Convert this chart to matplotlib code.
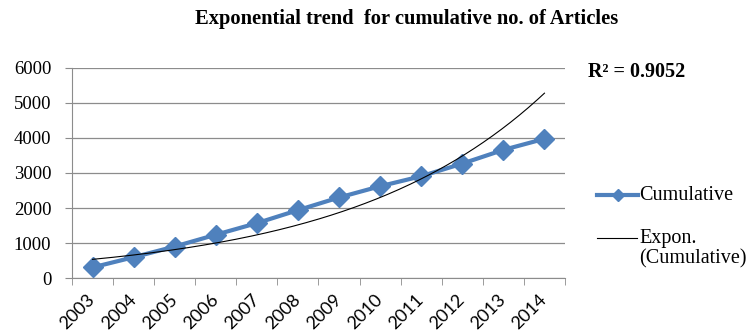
import numpy as np
import matplotlib.pyplot as plt
from matplotlib.lines import Line2D

years = ['2003', '2004', '2005', '2006', '2007', '2008',
         '2009', '2010', '2011', '2012', '2013', '2014']
cumulative = [310, 600, 905, 1240, 1570, 1940, 2300, 2620, 2905, 3265, 3655, 3970]
r2_label = 'R² = 0.9052'

serif = 'Liberation Serif'
blue = '#4F81BD'
grey = '#8C8C8C'

fig = plt.figure(figsize=(7.48, 3.33), dpi=100)
ax = fig.add_axes([72 / 748, 1 - 278.3 / 333, 493 / 748, 210.8 / 333])

x = np.arange(1, len(years) + 1)
ax.plot(x, cumulative, color=blue, lw=3, marker='D', ms=10.5, zorder=3)

# exponential trendline fitted the same way excel does (linear fit on log y)
k, b = np.polyfit(x, np.log(cumulative), 1)
xs = np.linspace(x[0], x[-1], 200)
ax.plot(xs, np.exp(b + k * xs), color='black', lw=0.8, zorder=4)

ax.set_xlim(0.5, len(years) + 0.5)
ax.set_ylim(0, 6000)
ax.set_yticks(range(0, 6001, 1000))
ax.set_xticks(x)
ax.set_xticklabels(years, rotation=45, ha='right', va='center',
                   rotation_mode='anchor', fontsize=13, family='Lato')
for t in ax.get_yticklabels():
    t.set_family(serif)
    t.set_fontsize(13.5)

# category boundary ticks on the x axis
ax.set_xticks(np.arange(0.5, len(years) + 1), minor=True)
ax.tick_params(axis='x', which='major', length=0, pad=13.5)
ax.tick_params(axis='x', which='minor', length=5, color=grey)
ax.tick_params(axis='y', length=5, color=grey, pad=10)

ax.grid(axis='y', color=grey, lw=0.9)
ax.set_axisbelow(True)
for side in ['top', 'right']:
    ax.spines[side].set_visible(False)
for side in ['left', 'bottom']:
    ax.spines[side].set_color(grey)

fig.text(407 / 748, 1 - 19 / 333, 'Exponential trend  for cumulative no. of Articles',
         ha='center', va='center', family=serif, weight='bold', fontsize=14.8)
fig.text(588 / 748, 1 - 72 / 333, r2_label, ha='left', va='center',
         family=serif, weight='bold', fontsize=14.5)

# legend, drawn by hand so the trendline key sits on the first text line
def fx(px):
    return px / 748

def fy(px):
    return 1 - px / 333

fig.add_artist(Line2D([fx(597), fx(638)], [fy(195), fy(195)], color=blue, lw=3))
fig.add_artist(Line2D([fx(617.5)], [fy(195)], color=blue, marker='D', ms=6))
fig.text(fx(639), fy(195), 'Cumulative', ha='left', va='center',
         family=serif, fontsize=14.5)
fig.add_artist(Line2D([fx(597), fx(637)], [fy(238), fy(238)], color='black', lw=0.8))
fig.text(fx(639), fy(238), 'Expon.', ha='left', va='center',
         family=serif, fontsize=14.5)
fig.text(fx(639), fy(259), '(Cumulative)', ha='left', va='center',
         family=serif, fontsize=14.5)

fig.savefig('out.png', dpi=100)
